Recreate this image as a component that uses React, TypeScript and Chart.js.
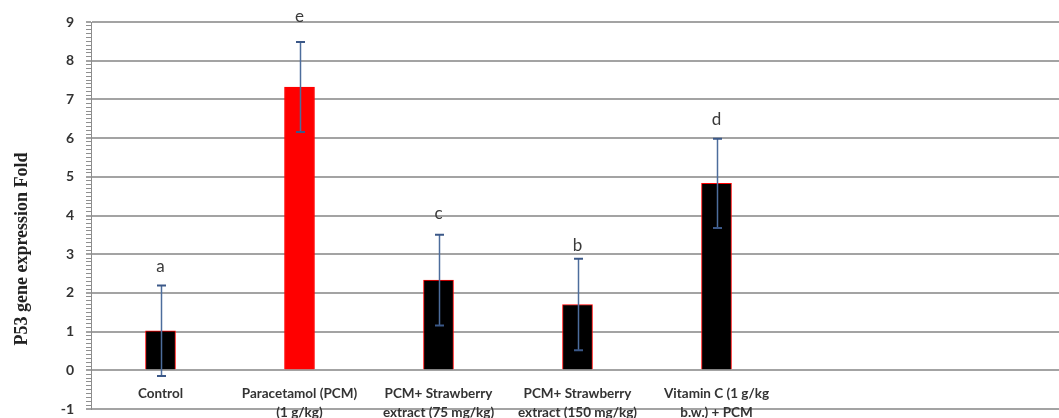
import React, { useEffect, useRef } from 'react';
import { Chart, registerables } from 'chart.js';

Chart.register(...registerables);

const categories: (string | string[])[] = [
  'Control',
  ['Paracetamol (PCM)', '(1 g/kg)'],
  ['PCM+ Strawberry', 'extract (75 mg/kg)'],
  ['PCM+ Strawberry', 'extract (150 mg/kg)'],
  ['Vitamin C (1 g/kg', 'b.w.) + PCM'],
  '',
  '',
];
const values: (number | null)[] = [1.02, 7.32, 2.33, 1.7, 4.83, null, null];
const errors: (number | null)[] = [1.17, 1.16, 1.17, 1.18, 1.15, null, null];
const letters = ['a', 'e', 'c', 'b', 'd'];
const letterY = [2.69, 9.15, 4.06, 3.23, 6.49];
const barColors = ['#000000', '#ff0000', '#000000', '#000000', '#000000', '#000000', '#000000'];
const yTitle = 'P53 gene expression Fold';
const yMin = -1;
const yMax = 9;

const isInt = (v: number) => Math.abs(v - Math.round(v)) < 1e-6;

const overlay = {
  id: 'overlay',
  afterDatasetsDraw(chart: any) {
    const { ctx, scales } = chart;
    const x = scales.x;
    const y = scales.y;
    ctx.save();
    values.forEach((v, i) => {
      const e = errors[i];
      if (v == null || e == null) return;
      const px = Math.round(x.getPixelForValue(i)) + 0.5;
      const top = y.getPixelForValue(v + e);
      const bot = y.getPixelForValue(v - e);
      ctx.strokeStyle = '#4d6d9c';
      ctx.lineWidth = 1.5;
      ctx.beginPath();
      ctx.moveTo(px, top);
      ctx.lineTo(px, bot);
      ctx.stroke();
      ctx.strokeStyle = '#3b5888';
      ctx.lineWidth = 2;
      ctx.beginPath();
      ctx.moveTo(px - 4.5, top);
      ctx.lineTo(px + 4.5, top);
      ctx.moveTo(px - 4.5, bot);
      ctx.lineTo(px + 4.5, bot);
      ctx.stroke();
    });
    ctx.fillStyle = '#3a3a3a';
    ctx.font = '17px Lato';
    ctx.textAlign = 'center';
    ctx.textBaseline = 'middle';
    letters.forEach((l, i) => {
      ctx.fillText(l, x.getPixelForValue(i), y.getPixelForValue(letterY[i]));
    });
    ctx.translate(22, 249);
    ctx.rotate(-Math.PI / 2);
    ctx.fillStyle = '#222222';
    ctx.font = 'bold 18px "Liberation Serif"';
    ctx.fillText(yTitle, 0, 0);
    ctx.restore();
  },
};

export default function App() {
  const ref = useRef<HTMLCanvasElement>(null);
  useEffect(() => {
    if (!ref.current) return;
    const chart = new Chart(ref.current, {
      type: 'bar',
      data: {
        labels: categories,
        datasets: [
          {
            data: values,
            backgroundColor: barColors,
            borderColor: '#ff0000',
            borderWidth: 1,
            barThickness: 30,
          },
        ],
      },
      options: {
        animation: false,
        responsive: false,
        devicePixelRatio: 1,
        layout: { padding: { top: 22, bottom: 9, left: 0, right: 0 } },
        plugins: { legend: { display: false }, tooltip: { enabled: false } },
        scales: {
          x: {
            position: { y: 0 } as any,
            grid: { display: false, drawTicks: false },
            border: { display: false },
            ticks: {
              autoSkip: false,
              maxRotation: 0,
              minRotation: 0,
              padding: 14,
              color: '#333333',
              font: { family: 'Lato', size: 13.5, weight: 'bold', lineHeight: 1.4 },
            },
            afterFit(scale: any) {
              scale.height = 0;
            },
          },
          y: {
            min: yMin,
            max: yMax,
            border: { display: true, color: '#8c8c8c', width: 1 },
            grid: {
              color: (c: any) => (isInt(c.tick.value) ? '#a3a3a3' : 'rgba(0,0,0,0)'),
              lineWidth: (c: any) => (isInt(c.tick.value) ? 2 : 1),
              tickColor: (c: any) => (isInt(c.tick.value) ? '#a3a3a3' : '#8f8f8f'),
              tickWidth: (c: any) => (isInt(c.tick.value) ? 2 : 1),
              tickLength: 5,
            } as any,
            ticks: {
              stepSize: 0.1,
              autoSkip: false,
              padding: 12,
              color: '#333333',
              font: { family: 'Lato', size: 14, weight: 'bold' },
              callback: (v: any) => (isInt(Number(v)) ? String(Math.round(Number(v))) : ''),
            },
            afterFit(scale: any) {
              scale.width = 91;
              scale.paddingTop = 0;
              scale.paddingBottom = 0;
            },
          },
        },
      },
      plugins: [overlay],
    });
    return () => chart.destroy();
  }, []);
  return (
    <div
      style={{
        position: 'absolute',
        left: 0,
        top: 0,
        width: 1059,
        height: 418,
        overflow: 'hidden',
        background: '#ffffff',
      }}
    >
      <canvas ref={ref} width={1064} height={418} style={{ display: 'block' }} />
    </div>
  );
}
